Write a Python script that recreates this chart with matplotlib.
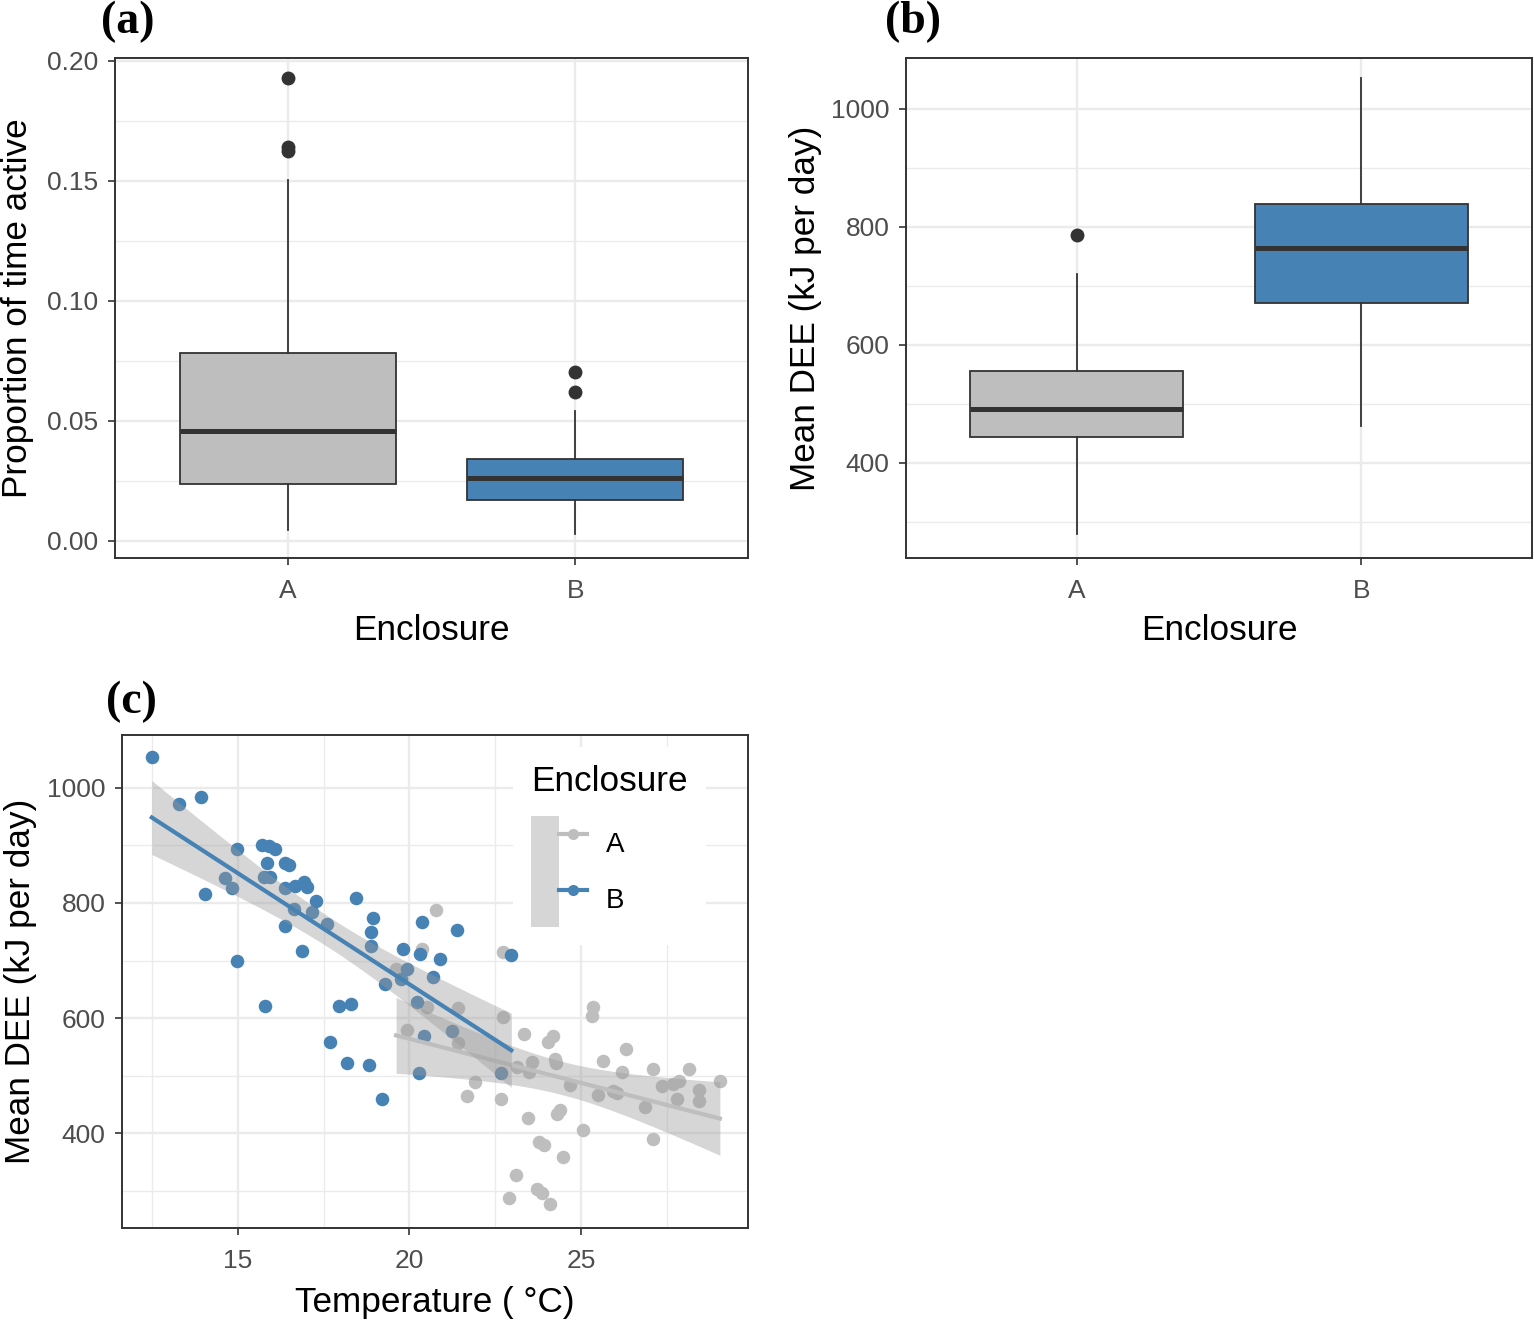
import numpy as np
import matplotlib.pyplot as plt
from matplotlib.patches import Patch
from matplotlib.lines import Line2D
from matplotlib.legend_handler import HandlerTuple

plt.rcParams['font.family'] = ['Liberation Sans', 'DejaVu Sans']

GREY = '#BEBEBE'
STEEL = '#4682B4'
INK = '#333333'
GRID = '#EBEBEB'
TICKTXT = '#4D4D4D'

enclosures = ['A', 'B']

# (a) proportion of time active, box stats per enclosure
act_whislo = [0.0046, 0.0029]
act_q1 = [0.0238, 0.0171]
act_med = [0.0458, 0.0263]
act_q3 = [0.0783, 0.0342]
act_whishi = [0.1504, 0.0542]
act_fliers = [[0.193, 0.164, 0.1625], [0.0704, 0.062]]

# (b) mean DEE, box stats per enclosure
dee_whislo = [280, 463]
dee_q1 = [444, 671]
dee_med = [492, 764]
dee_q3 = [556, 839]
dee_whishi = [720, 1052]
dee_fliers = [[786], []]

# (c) temperature vs mean DEE
temp_a = [20.77, 20.36, 22.72, 19.61, 21.41, 20.50, 22.72, 19.92, 21.41, 23.34,
          24.19, 24.05, 25.34, 25.32, 26.31, 25.63, 23.57, 24.25, 24.27, 23.14,
          23.49, 26.21, 27.11, 28.14, 29.05, 21.92, 21.69, 22.66, 24.69, 25.51,
          25.94, 26.04, 26.87, 27.36, 27.69, 27.87, 27.79, 28.43, 28.43, 23.47,
          24.29, 24.39, 25.05, 27.11, 23.77, 23.92, 24.49, 23.10, 23.73, 23.86,
          22.89, 24.10]
dee_a = [788, 720, 714, 685, 617, 620, 602, 580, 556, 573,
         569, 559, 619, 604, 547, 525, 524, 528, 522, 515,
         506, 507, 512, 512, 491, 488, 464, 460, 483, 467,
         474, 469, 446, 482, 486, 491, 460, 475, 456, 426,
         433, 440, 406, 389, 384, 379, 359, 328, 302, 295,
         287, 277]
temp_b = [12.49, 13.29, 13.91, 14.03, 14.61, 14.83, 14.98, 14.98, 15.70, 15.90,
          16.09, 15.85, 16.36, 16.48, 15.75, 15.94, 16.36, 16.67, 16.92, 17.02,
          17.28, 17.16, 16.63, 16.36, 17.59, 16.87, 18.44, 18.94, 18.88, 18.88,
          19.80, 20.36, 20.31, 20.89, 21.39, 22.97, 20.69, 19.29, 19.92, 19.74,
          20.23, 21.23, 20.42, 22.66, 20.27, 19.19, 15.80, 17.95, 18.30, 17.68,
          18.19, 18.81]
dee_b = [1054, 972, 985, 815, 843, 826, 893, 699, 901, 899,
         894, 870, 870, 866, 846, 846, 826, 830, 837, 828,
         803, 785, 790, 760, 763, 717, 808, 774, 750, 726,
         720, 767, 711, 703, 753, 709, 671, 659, 686, 667,
         628, 578, 568, 505, 505, 460, 621, 621, 624, 559,
         522, 518]

LABEL_SIZE = 25.3


def style_axes(ax):
    for s in ax.spines.values():
        s.set_color(INK)
        s.set_linewidth(1.4)
    ax.tick_params(which='major', length=5, width=1.2, color=INK,
                   labelsize=19, labelcolor=TICKTXT)
    ax.tick_params(axis='x', which='major', pad=10)
    ax.tick_params(axis='y', which='major', pad=7)
    ax.tick_params(which='minor', length=0)
    ax.grid(which='major', color=GRID, linewidth=1.7)
    ax.grid(which='minor', color=GRID, linewidth=1.0)
    ax.set_axisbelow(True)


def box_panel(ax, whislo, q1, med, q3, whishi, fliers):
    stats = []
    for i in range(len(enclosures)):
        stats.append(dict(whislo=whislo[i], q1=q1[i], med=med[i], q3=q3[i],
                          whishi=whishi[i], fliers=fliers[i]))
    bp = ax.bxp(stats, positions=[1, 2], widths=0.75, patch_artist=True,
                showcaps=False,
                boxprops=dict(edgecolor=INK, linewidth=1.3),
                medianprops=dict(color=INK, linewidth=3.6, solid_capstyle='butt'),
                whiskerprops=dict(color=INK, linewidth=1.3),
                flierprops=dict(marker='o', markerfacecolor=INK,
                                markeredgecolor=INK, markersize=9))
    for patch, c in zip(bp['boxes'], [GREY, STEEL]):
        patch.set_facecolor(c)
    ax.set_xlim(0.4, 2.6)
    ax.set_xticks([1, 2])
    ax.set_xticklabels(enclosures)
    ax.set_xlabel('Enclosure', fontsize=LABEL_SIZE)
    style_axes(ax)


fig = plt.figure(figsize=(15.34, 13.21), dpi=100)

# (a)
ax1 = fig.add_axes([115 / 1534, 1 - 558 / 1321, 633 / 1534, 500 / 1321])
box_panel(ax1, act_whislo, act_q1, act_med, act_q3, act_whishi, act_fliers)
ax1.set_ylim(-0.0071, 0.2012)
ax1.set_yticks([0.0, 0.05, 0.10, 0.15, 0.20])
ax1.set_yticklabels(['0.00', '0.05', '0.10', '0.15', '0.20'])
ax1.set_yticks([0.025, 0.075, 0.125, 0.175], minor=True)
ax1.set_ylabel('Proportion of time active', fontsize=LABEL_SIZE)
ax1.yaxis.set_label_coords(-0.128, 0.5)
ax1.xaxis.set_label_coords(0.5, -0.112)

# (b)
ax2 = fig.add_axes([906 / 1534, 1 - 558 / 1321, 626 / 1534, 500 / 1321])
box_panel(ax2, dee_whislo, dee_q1, dee_med, dee_q3, dee_whishi, dee_fliers)
ax2.set_ylim(239, 1086)
ax2.set_yticks([400, 600, 800, 1000])
ax2.set_yticks([300, 500, 700, 900], minor=True)
ax2.set_ylabel('Mean DEE (kJ per day)', fontsize=LABEL_SIZE)
ax2.yaxis.set_label_coords(-0.134, 0.5)
ax2.xaxis.set_label_coords(0.5, -0.112)

# (c)
ax3 = fig.add_axes([122 / 1534, 1 - 1228 / 1321, 626 / 1534, 493 / 1321])
ax3.scatter(temp_a, dee_a, s=95, color=GREY, linewidths=0, zorder=2)
ax3.scatter(temp_b, dee_b, s=95, color=STEEL, linewidths=0, zorder=2)

z = 3
for tx, dy, c in [(temp_a, dee_a, GREY), (temp_b, dee_b, STEEL)]:
    x = np.asarray(tx)
    y = np.asarray(dy)
    n = len(x)
    slope, icpt = np.polyfit(x, y, 1)
    resid = y - (slope * x + icpt)
    s = np.sqrt(np.sum(resid ** 2) / (n - 2))
    sxx = np.sum((x - x.mean()) ** 2)
    xs = np.linspace(x.min(), x.max(), 80)
    fit = slope * xs + icpt
    se = s * np.sqrt(1 / n + (xs - x.mean()) ** 2 / sxx)
    ax3.fill_between(xs, fit - 2.01 * se, fit + 2.01 * se, color='#999999',
                     alpha=0.4, linewidth=0, zorder=z)
    ax3.plot(xs, fit, color=c, linewidth=3.0, zorder=z + 1)
    z += 2

ax3.set_xlim(11.62, 29.87)
ax3.set_ylim(235, 1092)
ax3.set_xticks([15, 20, 25])
ax3.set_xticks([12.5, 17.5, 22.5, 27.5], minor=True)
ax3.set_yticks([400, 600, 800, 1000])
ax3.set_yticks([300, 500, 700, 900], minor=True)
style_axes(ax3)
ax3.set_xlabel('Temperature ( \u00b0C)', fontsize=LABEL_SIZE)
ax3.set_ylabel('Mean DEE (kJ per day)', fontsize=LABEL_SIZE)
ax3.yaxis.set_label_coords(-0.136, 0.5)
ax3.xaxis.set_label_coords(0.5, -0.118)

handles = []
for c in [GREY, STEEL]:
    rib = Patch(facecolor='#999999', alpha=0.4, edgecolor='none')
    ln = Line2D([], [], color=c, linewidth=3.0, marker='o', markersize=8,
                markeredgewidth=0)
    handles.append((rib, ln))
leg = ax3.legend(handles, enclosures, title='Enclosure', loc='upper left',
                 bbox_to_anchor=((513 - 122) / 626, (1228 - 747) / 493),
                 borderaxespad=0, fontsize=20, title_fontsize=LABEL_SIZE,
                 handler_map={tuple: HandlerTuple(ndivide=None, pad=0)},
                 handlelength=2.0, handleheight=2.7, labelspacing=0,
                 handletextpad=0.7, borderpad=0.65, numpoints=1,
                 frameon=True, fancybox=False, alignment='left')
leg.get_frame().set_facecolor('white')
leg.get_frame().set_edgecolor('none')
leg.get_frame().set_alpha(1)
# gap between legend title and keys (labelspacing is 0 so keys touch)
leg._legend_box.sep = 13

for lab, px, py in [('(a)', 128, 22), ('(b)', 913, 22), ('(c)', 131, 702)]:
    fig.text(px / 1534, 1 - py / 1321, lab, ha='center', va='center',
             fontsize=33, fontweight='bold', family='Liberation Serif')

fig.savefig('out.png', dpi=100)
